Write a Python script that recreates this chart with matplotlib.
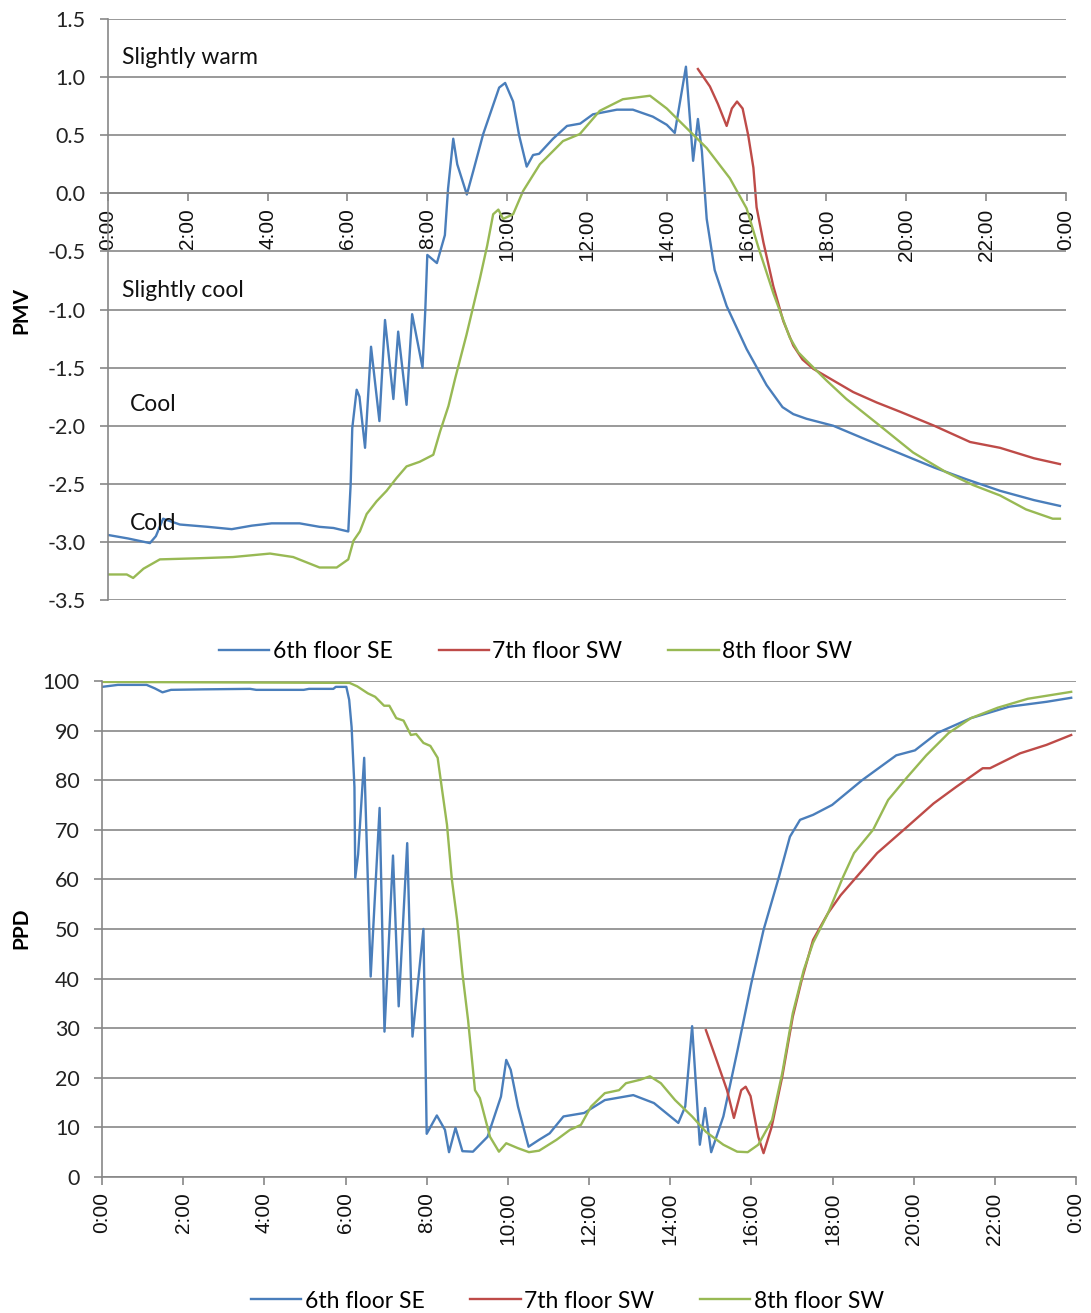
import matplotlib
matplotlib.use("Agg")
import matplotlib.pyplot as plt
from matplotlib.lines import Line2D

plt.rcParams['axes.unicode_minus'] = False

# ---- data (time in decimal hours) ----
pmv_se6_t = [0.0, 0.5, 1.05, 1.2, 1.38, 1.8, 2.5, 3.1, 3.6, 4.1, 4.8, 5.3, 5.65, 6.02,
             6.08, 6.12, 6.23, 6.3, 6.44, 6.59, 6.8, 6.94, 7.15, 7.27, 7.48, 7.62, 7.88,
             7.95, 8.0, 8.24, 8.44, 8.52, 8.65, 8.75, 8.99, 9.15, 9.4, 9.8, 9.95, 10.15,
             10.3, 10.49, 10.65, 10.8, 11.15, 11.5, 11.83, 12.15, 12.75, 13.15, 13.65,
             14.0, 14.2, 14.48, 14.66, 14.78, 14.88, 15.0, 15.2, 15.5, 16.0, 16.5, 16.9,
             17.17, 17.5, 18.17, 19.0, 19.85, 20.7, 21.5, 22.35, 23.2, 23.85]
pmv_se6 = [-2.94, -2.97, -3.01, -2.95, -2.80, -2.85, -2.87, -2.89, -2.86, -2.84, -2.84,
           -2.87, -2.88, -2.91, -2.5, -2.02, -1.69, -1.75, -2.19, -1.32, -1.96, -1.09,
           -1.77, -1.19, -1.82, -1.04, -1.50, -1.0, -0.53, -0.60, -0.36, 0.04, 0.47,
           0.25, -0.01, 0.19, 0.51, 0.91, 0.95, 0.79, 0.5, 0.23, 0.33, 0.34, 0.47, 0.58,
           0.60, 0.68, 0.72, 0.72, 0.66, 0.59, 0.52, 1.09, 0.28, 0.64, 0.36, -0.22,
           -0.66, -0.97, -1.34, -1.65, -1.84, -1.90, -1.94, -2.00, -2.12, -2.24, -2.36,
           -2.46, -2.56, -2.64, -2.69]

pmv_sw7_t = [14.78, 15.08, 15.28, 15.5, 15.63, 15.76, 15.9, 16.04, 16.17, 16.25, 16.42,
             16.67, 16.92, 17.17, 17.4, 17.67, 18.17, 18.67, 19.26, 19.85, 20.7, 21.6,
             22.35, 23.2, 23.85]
pmv_sw7 = [1.07, 0.92, 0.77, 0.58, 0.73, 0.79, 0.73, 0.50, 0.22, -0.12, -0.42, -0.80,
           -1.10, -1.31, -1.43, -1.51, -1.61, -1.71, -1.80, -1.88, -2.00, -2.14, -2.19,
           -2.28, -2.33]

pmv_sw8_t = [0.0, 0.47, 0.63, 0.89, 1.3, 2.3, 3.13, 4.06, 4.64, 5.3, 5.73, 6.02, 6.15,
             6.31, 6.48, 6.73, 6.98, 7.23, 7.48, 7.81, 8.15, 8.32, 8.53, 8.7, 8.98, 9.32,
             9.5, 9.65, 9.78, 9.9, 10.15, 10.4, 10.82, 11.4, 11.82, 12.32, 12.9, 13.58,
             14.0, 14.5, 15.0, 15.58, 16.0, 16.3, 16.67, 17.08, 17.3, 17.5, 18.0, 18.5,
             19.34, 20.17, 21.0, 21.67, 22.35, 23.0, 23.67, 23.85]
pmv_sw8 = [-3.28, -3.28, -3.31, -3.23, -3.15, -3.14, -3.13, -3.10, -3.13, -3.22, -3.22,
           -3.15, -2.99, -2.91, -2.76, -2.65, -2.56, -2.45, -2.35, -2.31, -2.25, -2.05,
           -1.83, -1.59, -1.22, -0.73, -0.45, -0.18, -0.14, -0.22, -0.18, 0.02, 0.25,
           0.45, 0.51, 0.71, 0.81, 0.84, 0.73, 0.56, 0.39, 0.13, -0.13, -0.47, -0.86,
           -1.24, -1.37, -1.44, -1.61, -1.77, -2.00, -2.23, -2.40, -2.51, -2.60, -2.72,
           -2.80, -2.80]

ppd_se6_t = [0.0, 0.39, 1.1, 1.3, 1.49, 1.7, 2.5, 3.65, 3.8, 4.97, 5.1, 5.7, 5.76, 6.02,
             6.09, 6.15, 6.22, 6.24, 6.31, 6.46, 6.62, 6.84, 6.96, 7.17, 7.31, 7.52, 7.65,
             7.92, 8.0, 8.25, 8.45, 8.55, 8.71, 8.88, 9.14, 9.5, 9.83, 9.96, 10.07, 10.25,
             10.51, 10.77, 11.03, 11.37, 11.88, 12.39, 13.09, 13.6, 14.2, 14.37, 14.54,
             14.73, 14.86, 15.01, 15.31, 15.66, 16.0, 16.3, 16.68, 16.95, 17.2, 17.52,
             17.99, 18.73, 19.57, 20.03, 20.58, 21.41, 22.35, 23.28, 23.88]
ppd_se6 = [98.8, 99.2, 99.2, 98.5, 97.7, 98.2, 98.3, 98.4, 98.2, 98.2, 98.4, 98.4, 98.8,
           98.8, 96.2, 90.7, 78.6, 60.3, 65.0, 84.5, 40.4, 74.4, 29.3, 64.8, 34.4, 67.3,
           28.3, 50.0, 8.7, 12.4, 9.5, 5.0, 9.9, 5.2, 5.1, 8.1, 16.2, 23.6, 21.6, 14.2,
           6.1, 7.5, 8.8, 12.2, 12.9, 15.5, 16.5, 14.9, 10.9, 14.2, 30.4, 6.5, 13.9, 5.0,
           12.2, 25.6, 39.1, 49.8, 60.5, 68.6, 72.0, 73.0, 75.0, 80.0, 85.0, 86.0, 89.5,
           92.5, 94.8, 95.8, 96.6]

ppd_sw7_t = [14.88, 15.14, 15.4, 15.57, 15.75, 15.86, 15.98, 16.17, 16.3, 16.5, 16.76,
             17.02, 17.24, 17.52, 17.89, 18.2, 18.53, 19.1, 19.84, 20.49, 21.04, 21.7,
             21.88, 22.62, 23.27, 23.88]
ppd_sw7 = [29.6, 23.6, 17.5, 11.9, 17.5, 18.2, 16.3, 8.1, 4.8, 10.1, 20.2, 32.3, 39.7,
           47.8, 53.2, 56.8, 59.9, 65.3, 70.6, 75.3, 78.6, 82.4, 82.4, 85.4, 87.1, 89.1]

ppd_sw8_t = [0.0, 3.0, 6.1, 6.29, 6.55, 6.73, 6.95, 7.08, 7.25, 7.43, 7.61, 7.74, 7.92,
             8.09, 8.27, 8.38, 8.5, 8.62, 8.75, 8.88, 9.02, 9.19, 9.31, 9.56, 9.78, 9.96,
             10.25, 10.52, 10.77, 11.2, 11.53, 11.8, 12.05, 12.39, 12.74, 12.91, 13.26,
             13.5, 13.77, 14.12, 14.54, 14.88, 15.31, 15.65, 15.91, 16.17, 16.51, 16.76,
             17.02, 17.29, 17.52, 17.89, 18.26, 18.53, 19.0, 19.37, 19.84, 20.31, 20.86,
             21.41, 22.07, 22.81, 23.88]
ppd_sw8 = [99.8, 99.7, 99.6, 98.9, 97.5, 96.8, 95.0, 95.0, 92.5, 92.0, 89.1, 89.3, 87.5,
           86.9, 84.5, 78.0, 71.0, 60.0, 51.8, 41.1, 31.6, 17.5, 15.9, 8.1, 5.1, 6.8, 5.8,
           5.0, 5.3, 7.5, 9.5, 10.5, 14.2, 16.9, 17.5, 18.9, 19.6, 20.3, 18.9, 15.5, 12.2,
           9.1, 6.5, 5.1, 5.0, 6.5, 11.5, 20.9, 33.0, 41.7, 47.2, 53.2, 60.5, 65.3, 70.0,
           76.0, 80.6, 85.0, 89.5, 92.5, 94.6, 96.4, 97.8]

series_names = ["6th floor SE", "7th floor SW", "8th floor SW"]
colors = ["#4A7EBB", "#BE4B48", "#98B954"]
hour_ticks = list(range(0, 25, 2))
hour_labels = [f"{h % 24}:00" for h in hour_ticks]
pmv_ticks = [1.5, 1.0, 0.5, 0.0, -0.5, -1.0, -1.5, -2.0, -2.5, -3.0, -3.5]
ppd_ticks = list(range(0, 101, 10))
zones = [("Slightly warm", 0.35, 1.17), ("Slightly cool", 0.35, -0.84),
         ("Cool", 0.55, -1.82), ("Cold", 0.55, -2.84)]

grid_c = "#878787"
num_font = "Lato"
x_font = "Liberation Sans"

fig = plt.figure(figsize=(10.91, 13.13), dpi=100)
ax1 = fig.add_axes([0.0990, 0.5430, 0.878, 0.4425])
ax2 = fig.add_axes([0.0935, 0.1036, 0.8928, 0.3778])

# x axis of the PMV chart crosses at 0 (set before styling, it resets ticks)
ax1.spines["bottom"].set_position(("data", 0))


def style(ax, yticks, ylim, ylabels):
    ax.set_xlim(0, 24)
    ax.set_ylim(*ylim)
    ax.set_yticks(yticks)
    ax.set_yticklabels(ylabels, fontfamily=num_font, fontsize=15.5, color="#222222")
    ax.set_xticks(hour_ticks)
    ax.set_xticklabels(hour_labels, rotation=90, fontfamily=x_font, fontsize=15,
                       color="#111111")
    ax.yaxis.grid(True, color=grid_c, lw=1.2)
    ax.set_axisbelow(True)
    for s in ("top", "right"):
        ax.spines[s].set_visible(False)
    for s in ("left", "bottom"):
        ax.spines[s].set_color(grid_c)
        ax.spines[s].set_linewidth(1.2)
    ax.tick_params(axis="both", direction="out", length=6, width=1.2, color=grid_c)
    ax.tick_params(axis="y", pad=10)
    ax.tick_params(axis="x", pad=5)


# ---- PMV ----
pmv_sets = [(pmv_se6_t, pmv_se6), (pmv_sw7_t, pmv_sw7), (pmv_sw8_t, pmv_sw8)]
for (t, v), c, name in zip(pmv_sets, colors, series_names):
    ax1.plot(t, v, color=c, lw=1.7, label=name)
style(ax1, pmv_ticks, (-3.5, 1.5), [f"{v:.1f}" for v in pmv_ticks])
for txt, x, y in zones:
    ax1.text(x, y, txt, fontfamily=num_font, fontsize=16.5, va="center", ha="left",
             color="#111111")

# ---- PPD ----
ppd_sets = [(ppd_se6_t, ppd_se6), (ppd_sw7_t, ppd_sw7), (ppd_sw8_t, ppd_sw8)]
for (t, v), c, name in zip(ppd_sets, colors, series_names):
    ax2.plot(t, v, color=c, lw=1.7, label=name)
style(ax2, ppd_ticks, (0, 100), [str(v) for v in ppd_ticks])

fig.text(0.020, 1 - 310 / 1313, "PMV", rotation=90, fontfamily=num_font,
         fontweight="bold", fontsize=15, ha="center", va="center")
fig.text(0.020, 1 - 928 / 1313, "PPD", rotation=90, fontfamily=num_font,
         fontweight="bold", fontsize=15, ha="center", va="center")

handles = [Line2D([], [], color=c, lw=1.7) for c in colors]
for cx, cy in [(0.491, 1 - 652 / 1313), (0.52, 1 - 1301 / 1313)]:
    fig.legend(handles, series_names, loc="center", bbox_to_anchor=(cx, cy), ncol=3,
               frameon=False, prop={"family": num_font, "size": 16.5}, handlelength=2.2,
               handletextpad=0.15, columnspacing=2.0, borderpad=0, borderaxespad=0)

fig.savefig("out.png", dpi=100)
